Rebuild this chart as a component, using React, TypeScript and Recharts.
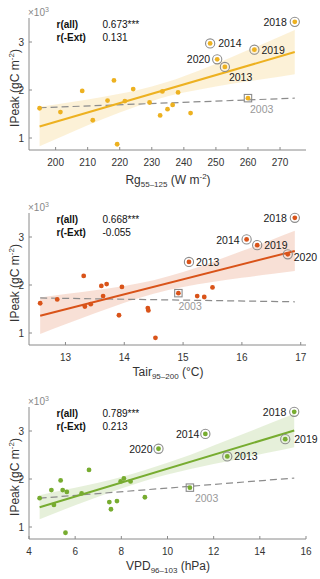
import React from "react";
import { ComposedChart, XAxis, YAxis, Area, Line, Scatter } from "recharts";

// IPeak in 10^3 gC m-2, normal years
const RG_X = [195.0, 201.5, 208.3, 211.6, 216.2, 218.2, 219.2, 221.6, 224.2, 229.3, 232.6, 233.3, 234.9, 236.5, 238.2, 242.1];
const RG_Y = [1.62, 1.54, 1.98, 1.37, 1.78, 2.2, 0.87, 1.77, 2.02, 1.74, 1.47, 1.97, 1.6, 1.69, 1.95, 1.52];
const TAIR_X = [12.57, 12.86, 13.31, 13.33, 13.43, 13.61, 13.64, 13.7, 13.91, 13.96, 14.4, 14.41, 14.53, 15.24, 15.36, 15.5];
const TAIR_Y = [1.62, 1.7, 2.19, 1.55, 1.6, 1.98, 1.77, 2.02, 1.37, 1.96, 1.52, 1.47, 0.9, 1.77, 1.75, 1.95];
const VPD_X = [4.46, 4.97, 5.08, 5.37, 5.46, 5.58, 5.64, 6.28, 6.6, 7.48, 7.55, 7.81, 7.97, 8.11, 8.4, 9.02];
const VPD_Y = [1.6, 1.77, 1.46, 1.97, 1.77, 0.88, 1.73, 1.7, 2.19, 1.52, 1.37, 1.54, 1.95, 2.01, 1.95, 1.62];

// extreme years
const EXT_YEARS = ["2013", "2014", "2018", "2019", "2020"];
const RG_EXT_X = [252.8, 248.2, 274.6, 262.0, 250.4];
const RG_EXT_Y = [2.48, 2.97, 3.42, 2.84, 2.64];
const TAIR_EXT_X = [15.1, 16.08, 16.9, 16.26, 16.78];
const TAIR_EXT_Y = [2.48, 2.95, 3.4, 2.83, 2.64];
const VPD_EXT_X = [12.59, 11.64, 15.49, 15.1, 9.61];
const VPD_EXT_Y = [2.47, 2.94, 3.4, 2.83, 2.63];

// 2003
const RG_2003 = [260.0, 1.83];
const TAIR_2003 = [14.92, 1.83];
const VPD_2003 = [10.97, 1.82];

// fitted lines (end points) and confidence bands
const RG_FIT_X = [195.0, 274.6];
const RG_FIT_ALL = [1.24, 2.79];
const RG_FIT_EXT = [1.63, 1.83];
const RG_BAND_X = [195, 205, 215, 225, 235, 245, 255, 265, 274.6];
const RG_BAND_LO = [0.83, 1.12, 1.4, 1.65, 1.87, 2.01, 2.13, 2.23, 2.33];
const RG_BAND_HI = [1.65, 1.75, 1.86, 1.99, 2.17, 2.41, 2.69, 2.97, 3.25];

const TAIR_FIT_X = [12.57, 16.9];
const TAIR_FIT_ALL = [1.36, 2.71];
const TAIR_FIT_EXT = [1.73, 1.65];
const TAIR_BAND_X = [12.57, 13, 13.5, 14, 14.5, 15, 15.5, 16, 16.5, 16.9];
const TAIR_BAND_LO = [0.98, 1.18, 1.41, 1.63, 1.82, 1.96, 2.06, 2.15, 2.23, 2.29];
const TAIR_BAND_HI = [1.74, 1.81, 1.89, 1.98, 2.1, 2.27, 2.48, 2.71, 2.94, 3.13];

const VPD_FIT_X = [4.46, 15.49];
const VPD_FIT_ALL = [1.41, 3.01];
const VPD_FIT_EXT = [1.6, 2.02];
const VPD_BAND_X = [4.46, 5.5, 6.5, 7.5, 8.5, 9.5, 10.5, 11.5, 12.5, 13.5, 14.5, 15.49];
const VPD_BAND_LO = [1.16, 1.36, 1.54, 1.72, 1.88, 2.03, 2.15, 2.26, 2.36, 2.46, 2.56, 2.66];
const VPD_BAND_HI = [1.66, 1.77, 1.87, 1.98, 2.11, 2.26, 2.42, 2.6, 2.79, 2.98, 3.17, 3.36];

const RG_TICKS = [200, 210, 220, 230, 240, 250, 260, 270];
const TAIR_TICKS = [13, 14, 15, 16, 17];
const VPD_TICKS = [4, 6, 8, 10, 12, 14, 16];
const Y_TICKS = [1, 2, 3];

const R_ALL = ["0.673***", "0.668***", "0.789***"];
const R_EXT = ["0.131", "-0.055", "0.213"];

const FONT = "'Liberation Sans', Arial, Helvetica, sans-serif";
const AXIS = "#8a8a8a";
const TICK_TEXT = "#333";
const GREY = "#8c8c8c";

type LabelPos = { dx: number; dy: number; anchor: "start" | "end" };

const P1_LABELS: Record<string, LabelPos> = {
  "2018": { dx: -8, dy: 0, anchor: "end" },
  "2014": { dx: 8, dy: 0, anchor: "start" },
  "2020": { dx: -7, dy: 0, anchor: "end" },
  "2013": { dx: 4, dy: 10, anchor: "start" },
  "2019": { dx: 7, dy: 0, anchor: "start" },
  "2003": { dx: 2, dy: 11, anchor: "start" },
};
const P2_LABELS: Record<string, LabelPos> = {
  "2018": { dx: -8, dy: 0, anchor: "end" },
  "2014": { dx: -7, dy: 1, anchor: "end" },
  "2020": { dx: 6, dy: 3, anchor: "start" },
  "2013": { dx: 7, dy: 0, anchor: "start" },
  "2019": { dx: 7, dy: 0, anchor: "start" },
  "2003": { dx: 0, dy: 13, anchor: "start" },
};
const P3_LABELS: Record<string, LabelPos> = {
  "2018": { dx: -8, dy: 0, anchor: "end" },
  "2014": { dx: -6, dy: 0, anchor: "end" },
  "2020": { dx: -6, dy: 0, anchor: "end" },
  "2013": { dx: 7, dy: 0, anchor: "start" },
  "2019": { dx: 9, dy: 0, anchor: "start" },
  "2003": { dx: 5, dy: 10, anchor: "start" },
};

const zip = (xs: number[], ys: number[]) => xs.map((x, i) => ({ x, y: ys[i] }));

function XTick(props: any) {
  const { x, y, payload } = props;
  return (
    <g>
      <line x1={x} y1={y} x2={x} y2={y - 3} stroke={AXIS} />
      <text x={x} y={y + 15.5} textAnchor="middle" fontSize={10} fill={TICK_TEXT} fontFamily={FONT}>
        {payload.value}
      </text>
    </g>
  );
}

function YTick(props: any) {
  const { x, y, payload } = props;
  return (
    <g>
      <line x1={x} y1={y} x2={x + 3} y2={y} stroke={AXIS} />
      <text x={x - 5} y={y + 3.5} textAnchor="end" fontSize={10} fill={TICK_TEXT} fontFamily={FONT}>
        {payload.value}
      </text>
    </g>
  );
}

interface PanelProps {
  color: string;
  xs: number[];
  ys: number[];
  extX: number[];
  extY: number[];
  y2003: number[];
  fitX: number[];
  fitAll: number[];
  fitExt: number[];
  bandX: number[];
  bandLo: number[];
  bandHi: number[];
  domain: [number, number];
  ticks: number[];
  labels: Record<string, LabelPos>;
  rAll: string;
  rExt: string;
  xTitle: React.ReactNode;
  top: number;
}

function Panel(p: PanelProps) {
  const dots = zip(p.xs, p.ys);
  const ext = p.extX.map((x, i) => ({ x, y: p.extY[i], year: EXT_YEARS[i] }));
  const pt2003 = [{ x: p.y2003[0], y: p.y2003[1], year: "2003" }];
  const fitAll = zip(p.fitX, p.fitAll);
  const fitExt = zip(p.fitX, p.fitExt);
  const band = p.bandX.map((x, i) => ({ x, band: [p.bandLo[i], p.bandHi[i]] }));

  const label = (cx: number, cy: number, year: string, fill: string) => {
    const l = p.labels[year];
    return (
      <text
        x={cx + l.dx}
        y={cy + l.dy}
        textAnchor={l.anchor}
        dominantBaseline="central"
        fontSize={10.5}
        fill={fill}
        fontFamily={FONT}
      >
        {year}
      </text>
    );
  };

  return (
    <div style={{ position: "absolute", left: 0, top: p.top, width: 320, height: 195 }}>
      <ComposedChart width={320} height={195} margin={{ top: 18, right: 14, bottom: 0, left: 0 }}>
        <XAxis
          dataKey="x"
          type="number"
          domain={p.domain}
          ticks={p.ticks}
          interval={0}
          height={45}
          tickSize={0}
          tickMargin={0}
          tickLine={false}
          axisLine={{ stroke: AXIS }}
          tick={<XTick />}
        />
        <YAxis
          type="number"
          domain={[0.75, 3.5]}
          ticks={Y_TICKS}
          width={29}
          tickSize={0}
          tickMargin={0}
          tickLine={false}
          axisLine={{ stroke: AXIS }}
          tick={<YTick />}
        />
        <Area
          data={band}
          dataKey="band"
          type="monotone"
          stroke="none"
          fill={p.color}
          fillOpacity={0.18}
          isAnimationActive={false}
        />
        <Line
          data={fitExt}
          dataKey="y"
          stroke={GREY}
          strokeWidth={1.2}
          strokeDasharray="7 4"
          dot={false}
          isAnimationActive={false}
        />
        <Line data={fitAll} dataKey="y" stroke={p.color} strokeWidth={2} dot={false} isAnimationActive={false} />
        <Scatter
          data={dots}
          dataKey="y"
          isAnimationActive={false}
          shape={(s: any) => <circle cx={s.cx} cy={s.cy} r={2.4} fill={p.color} />}
        />
        <Scatter
          data={pt2003}
          dataKey="y"
          isAnimationActive={false}
          shape={(s: any) => (
            <g>
              <rect x={s.cx - 3.7} y={s.cy - 3.7} width={7.4} height={7.4} fill="none" stroke={GREY} strokeWidth={1.1} />
              <circle cx={s.cx} cy={s.cy} r={2.4} fill={p.color} />
              {label(s.cx, s.cy, "2003", "#999")}
            </g>
          )}
        />
        <Scatter
          data={ext}
          dataKey="y"
          isAnimationActive={false}
          shape={(s: any) => (
            <g>
              <circle cx={s.cx} cy={s.cy} r={4.6} fill="none" stroke={GREY} strokeWidth={1.1} />
              <circle cx={s.cx} cy={s.cy} r={2.4} fill={p.color} />
              {label(s.cx, s.cy, s.payload.year, "#1a1a1a")}
            </g>
          )}
        />
      </ComposedChart>

      <div style={{ position: "absolute", left: 28, top: 4, fontSize: 10, color: "#888", lineHeight: "12px" }}>
        ×10<sup style={{ fontSize: 7, verticalAlign: "4px" }}>3</sup>
      </div>
      <div style={{ position: "absolute", left: 56.5, top: 18, fontSize: 10, lineHeight: "13px", color: "#111" }}>
        <div style={{ fontWeight: "bold" }}>r(all)</div>
        <div style={{ fontWeight: "bold" }}>r(-Ext)</div>
      </div>
      <div style={{ position: "absolute", left: 102.5, top: 18, fontSize: 10, lineHeight: "13px", color: "#111" }}>
        <div>{p.rAll}</div>
        <div>{p.rExt}</div>
      </div>
      <div
        style={{
          position: "absolute",
          left: 13,
          top: 88,
          transform: "translate(-50%, -50%) rotate(-90deg)",
          whiteSpace: "nowrap",
          fontSize: 12,
          color: "#333",
          lineHeight: "14px",
        }}
      >
        IPeak (gC m<sup style={{ fontSize: 8, verticalAlign: "5px" }}>-2</sup>)
      </div>
      <div
        style={{
          position: "absolute",
          left: 168,
          top: 170,
          transform: "translateX(-50%)",
          whiteSpace: "nowrap",
          fontSize: 12,
          color: "#333",
          lineHeight: "14px",
        }}
      >
        {p.xTitle}
      </div>
    </div>
  );
}

const sub = (t: string) => <sub style={{ fontSize: 8, verticalAlign: "-3px" }}>{t}</sub>;
const sup = (t: string) => <sup style={{ fontSize: 8, verticalAlign: "5px" }}>{t}</sup>;

export default function App() {
  return (
    <div style={{ position: "absolute", left: 0, top: 0, width: 320, height: 579, background: "#fff", fontFamily: FONT, overflow: "hidden" }}>
      <Panel
        color="#EDB120"
        xs={RG_X}
        ys={RG_Y}
        extX={RG_EXT_X}
        extY={RG_EXT_Y}
        y2003={RG_2003}
        fitX={RG_FIT_X}
        fitAll={RG_FIT_ALL}
        fitExt={RG_FIT_EXT}
        bandX={RG_BAND_X}
        bandLo={RG_BAND_LO}
        bandHi={RG_BAND_HI}
        domain={[191.7, 278.1]}
        ticks={RG_TICKS}
        labels={P1_LABELS}
        rAll={R_ALL[0]}
        rExt={R_EXT[0]}
        xTitle={<>Rg{sub("55–125")} (W m{sup("-2")})</>}
        top={0}
      />
      <Panel
        color="#D95319"
        xs={TAIR_X}
        ys={TAIR_Y}
        extX={TAIR_EXT_X}
        extY={TAIR_EXT_Y}
        y2003={TAIR_2003}
        fitX={TAIR_FIT_X}
        fitAll={TAIR_FIT_ALL}
        fitExt={TAIR_FIT_EXT}
        bandX={TAIR_BAND_X}
        bandLo={TAIR_BAND_LO}
        bandHi={TAIR_BAND_HI}
        domain={[12.38, 17.09]}
        ticks={TAIR_TICKS}
        labels={P2_LABELS}
        rAll={R_ALL[1]}
        rExt={R_EXT[1]}
        xTitle={<>Tair{sub("95–200")} (°C)</>}
        top={195}
      />
      <Panel
        color="#77AC30"
        xs={VPD_X}
        ys={VPD_Y}
        extX={VPD_EXT_X}
        extY={VPD_EXT_Y}
        y2003={VPD_2003}
        fitX={VPD_FIT_X}
        fitAll={VPD_FIT_ALL}
        fitExt={VPD_FIT_EXT}
        bandX={VPD_BAND_X}
        bandLo={VPD_BAND_LO}
        bandHi={VPD_BAND_HI}
        domain={[4, 16]}
        ticks={VPD_TICKS}
        labels={P3_LABELS}
        rAll={R_ALL[2]}
        rExt={R_EXT[2]}
        xTitle={<>VPD{sub("96–103")} (hPa)</>}
        top={389}
      />
    </div>
  );
}
